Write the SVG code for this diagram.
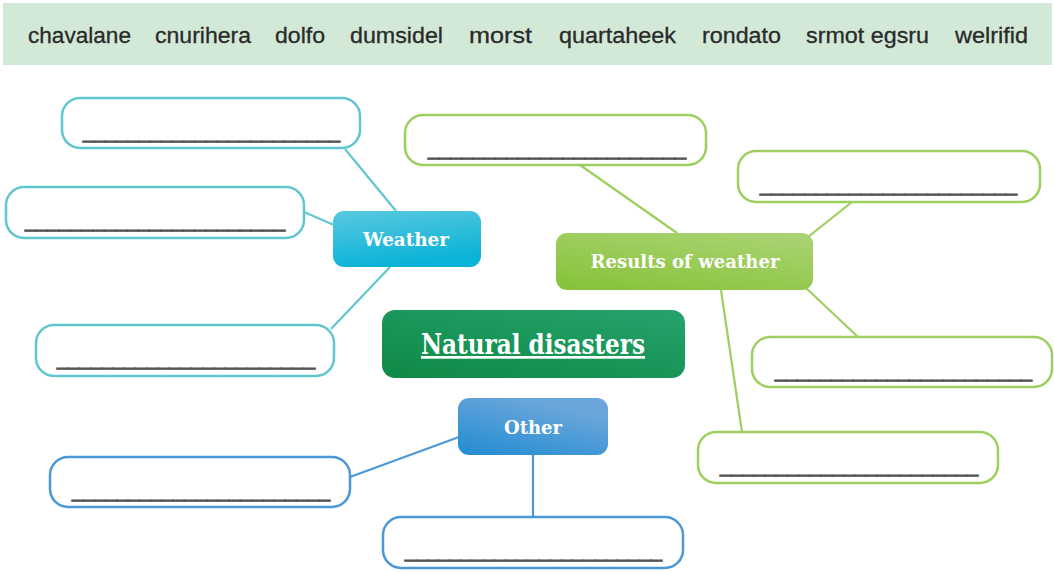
<svg xmlns="http://www.w3.org/2000/svg" width="1054" height="572" viewBox="0 0 1054 572">
<style>
.word{font-family:"Liberation Sans",Arial,sans-serif;font-size:22px;fill:#2a2a2a;stroke:#2a2a2a;stroke-width:0.3}
.blank{font-family:"Liberation Sans",Arial,sans-serif;font-size:20px;fill:#555;stroke:#555;stroke-width:1.1}
.box{fill:#fff;stroke-width:2.5}
.cy{stroke:#62c6cf}
.gr{stroke:#9dcf5e}
.bl{stroke:#4b98d7}
.lbl{font-family:"DejaVu Serif","Liberation Serif",serif;font-weight:bold;fill:#fff;text-anchor:middle}
.con line{stroke-width:2.2}
</style>
<defs>
<linearGradient id="gW" x1="0" y1="0" x2="0.3" y2="1"><stop offset="0" stop-color="#5ac8e0"/><stop offset="1" stop-color="#0ab3d7"/></linearGradient>
<linearGradient id="gR" x1="0.2" y1="1" x2="0.8" y2="0"><stop offset="0" stop-color="#88c43b"/><stop offset="1" stop-color="#a9d272"/></linearGradient>
<linearGradient id="gN" x1="0.1" y1="1" x2="0.9" y2="0"><stop offset="0" stop-color="#0f8a48"/><stop offset="1" stop-color="#25a26b"/></linearGradient>
<linearGradient id="gO" x1="0.1" y1="0.9" x2="0.6" y2="0.1"><stop offset="0" stop-color="#2a8fd2"/><stop offset="1" stop-color="#6aa6db"/></linearGradient>
</defs>
<rect width="1054" height="572" fill="#fff"/>
<g id="wordbank">
<rect x="3" y="3" width="1049" height="62" fill="#d3e9d8"/>
<text class="word" x="28" y="43" textLength="103" lengthAdjust="spacingAndGlyphs">chavalane</text>
<text class="word" x="155" y="43" textLength="96" lengthAdjust="spacingAndGlyphs">cnurihera</text>
<text class="word" x="275" y="43" textLength="50" lengthAdjust="spacingAndGlyphs">dolfo</text>
<text class="word" x="350" y="43" textLength="93" lengthAdjust="spacingAndGlyphs">dumsidel</text>
<text class="word" x="469" y="43" textLength="63" lengthAdjust="spacingAndGlyphs">morst</text>
<text class="word" x="559" y="43" textLength="117" lengthAdjust="spacingAndGlyphs">quartaheek</text>
<text class="word" x="702" y="43" textLength="79" lengthAdjust="spacingAndGlyphs">rondato</text>
<text class="word" x="806" y="43" textLength="123" lengthAdjust="spacingAndGlyphs">srmot egsru</text>
<text class="word" x="955" y="43" textLength="73" lengthAdjust="spacingAndGlyphs">welrifid</text>
</g>
<g id="connectors" class="con">
<line class="cy" x1="345" y1="149" x2="396" y2="211"/>
<line class="cy" x1="304" y1="212" x2="334" y2="225"/>
<line class="cy" x1="331" y1="329" x2="390" y2="267"/>
<line class="gr" x1="580" y1="165" x2="677" y2="233"/>
<line class="gr" x1="852" y1="202" x2="808" y2="237"/>
<line class="gr" x1="806" y1="288" x2="858" y2="337"/>
<line class="gr" x1="721" y1="290" x2="742" y2="432"/>
<line class="bl" x1="350" y1="477" x2="459" y2="437"/>
<line class="bl" x1="533" y1="455" x2="533" y2="517"/>
</g>
<g id="natural-disasters">
<rect x="382" y="310" width="303" height="68" rx="13" fill="url(#gN)"/>
<text class="lbl" x="533" y="354" font-size="27" font-weight="normal" text-decoration="underline" textLength="224" lengthAdjust="spacingAndGlyphs">Natural disasters</text>
</g>
<g id="weather">
<rect x="333" y="211" width="148" height="56" rx="11" fill="url(#gW)"/>
<text class="lbl" x="406" y="246" font-size="19" textLength="86" lengthAdjust="spacingAndGlyphs">Weather</text>
</g>
<g id="results">
<rect x="556" y="233" width="257" height="57" rx="11" fill="url(#gR)"/>
<text class="lbl" x="685" y="268" font-size="19" textLength="189" lengthAdjust="spacingAndGlyphs">Results of weather</text>
</g>
<g id="other">
<rect x="458" y="398" width="150" height="57" rx="11" fill="url(#gO)"/>
<text class="lbl" x="533" y="434" font-size="19" textLength="58" lengthAdjust="spacingAndGlyphs">Other</text>
</g>
<g id="w1"><rect class="box cy" x="62" y="98" width="298" height="50" rx="18"/><text class="blank" x="83" y="138" textLength="257" lengthAdjust="spacingAndGlyphs">_______________________</text></g>
<g id="w2"><rect class="box cy" x="6" y="187" width="298" height="51" rx="18"/><text class="blank" x="25" y="227" textLength="260" lengthAdjust="spacingAndGlyphs">_______________________</text></g>
<g id="w3"><rect class="box cy" x="36" y="325" width="298" height="51" rx="18"/><text class="blank" x="57" y="365" textLength="258" lengthAdjust="spacingAndGlyphs">_______________________</text></g>
<g id="r1"><rect class="box gr" x="405" y="115" width="301" height="50" rx="18"/><text class="blank" x="428" y="155" textLength="258" lengthAdjust="spacingAndGlyphs">_______________________</text></g>
<g id="r2"><rect class="box gr" x="738" y="151" width="302" height="51" rx="18"/><text class="blank" x="760" y="191" textLength="257" lengthAdjust="spacingAndGlyphs">_______________________</text></g>
<g id="r3"><rect class="box gr" x="752" y="337" width="300" height="50" rx="18"/><text class="blank" x="775" y="377" textLength="257" lengthAdjust="spacingAndGlyphs">_______________________</text></g>
<g id="r4"><rect class="box gr" x="698" y="432" width="300" height="51" rx="18"/><text class="blank" x="720" y="472" textLength="258" lengthAdjust="spacingAndGlyphs">_______________________</text></g>
<g id="o1"><rect class="box bl" x="50" y="457" width="300" height="50" rx="18"/><text class="blank" x="72" y="497" textLength="258" lengthAdjust="spacingAndGlyphs">_______________________</text></g>
<g id="o2"><rect class="box bl" x="383" y="517" width="300" height="51" rx="18"/><text class="blank" x="405" y="557" textLength="257" lengthAdjust="spacingAndGlyphs">_______________________</text></g>
</svg>
